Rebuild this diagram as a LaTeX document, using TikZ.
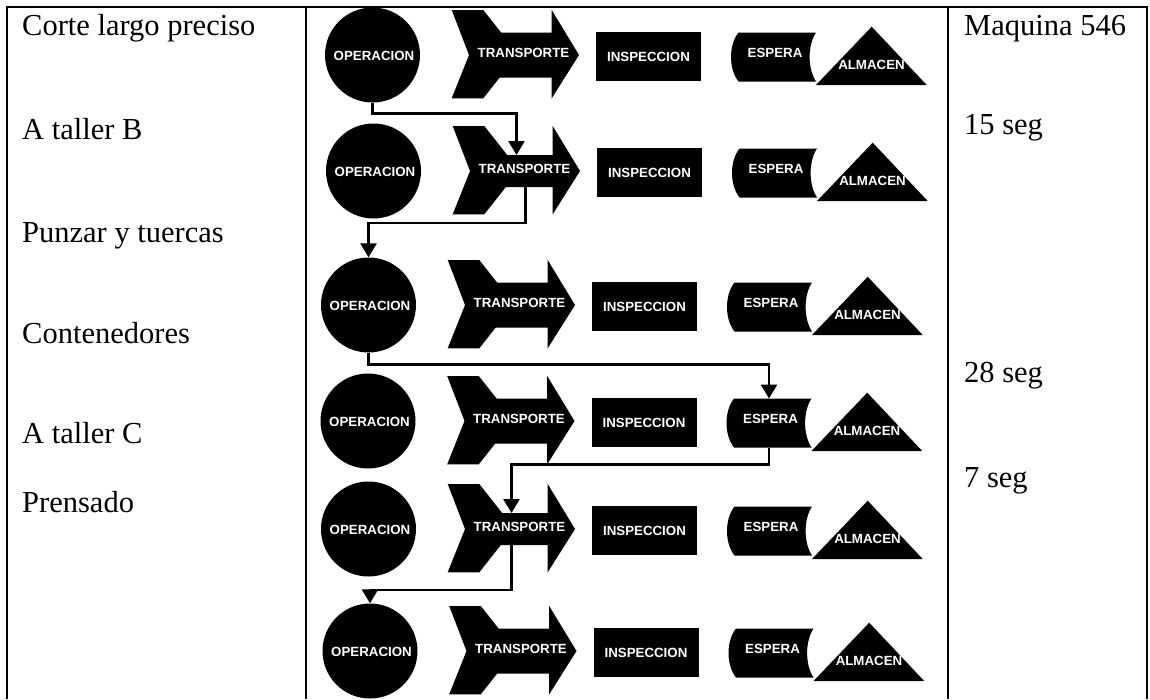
\documentclass[tikz,border=0pt]{standalone}
\usepackage{fontspec}
\setmainfont{Liberation Serif}
\newfontfamily\shapefont{Liberation Sans}
\usetikzlibrary{arrows.meta}

\tikzset{
  celltext/.style={anchor=base west, inner sep=0pt, font=\fontsize{30.5}{36}\selectfont},
  symtext/.style={text=white, inner sep=0pt, font=\shapefont\bfseries\fontsize{13.3}{15}\selectfont},
  opnode/.style={circle, fill=black, minimum size=95pt, inner sep=0pt, symtext},
  inspnode/.style={rectangle, fill=black, minimum width=105pt, minimum height=49pt, inner sep=0pt, symtext},
  conn/.style={line width=2.6pt, -{Triangle[length=14pt,width=16pt]}},
  rule/.style={line width=2pt},
  % one row of the five process symbols; the value is the half height of the arrow body
  pics/procrow/.style={code={
    \node[opnode] (-op) at (0,0) {};
    \node[symtext] (-opl) at (1.5,1) {OPERACION};
    \fill (79.2,-45) -- (110.8,-45) -- ({110.8+0.79*(45-#1)},-#1) -- (179.2,-#1) -- (179.2,-45)
      -- (206.5,0) -- (179.2,43.3) -- (179.2,#1) -- ({110.8+0.79*(43.3-#1)},#1) -- (110.8,43.3)
      -- (79.2,43.3) -- (96.5,0) -- cycle;
    \node[symtext] (-tr) at (151,-2) {TRANSPORTE};
    \coordinate (-trtop) at (143,-#1);
    \coordinate (-trbot) at (143,#1);
    \node[inspnode] (-in) at (276,1.5) {INSPECCION};
    \fill (366,-22.5) -- (443.5,-22.5) .. controls (435,-10) and (435,14) .. (443.5,26.5)
      -- (366,26.5) .. controls (356,14) and (356,-10) .. (366,-22.5) -- cycle;
    \node[symtext] (-es) at (402.5,-2) {ESPERA};
    \coordinate (-estop) at (401,-22.5);
    \coordinate (-esbot) at (401,26.5);
    \fill (499.2,-28.3) -- (554.2,30) -- (443.5,30) -- cycle;
    \node[symtext] (-al) at (499,10) {ALMACEN};
  }},
  pics/procrow/.default=22.5
}

\begin{document}
\begin{tikzpicture}[x=1pt, y=-1pt]
  \useasboundingbox (0,0) rectangle (1150,699);
  \fill[white] (0,0) rectangle (1150,699);

  % table frame
  \draw[rule] (7,699) -- (7,6.5) -- (1147,6.5) -- (1147,699);
  \draw[rule] (306,6.5) -- (306,699);
  \draw[rule] (947.5,6.5) -- (947.5,699);

  % activity column
  \node[celltext] (a1) at (22,35) {Corte largo preciso};
  \node[celltext] (a2) at (22,139) {A taller B};
  \node[celltext] (a3) at (22,242) {Punzar y tuercas};
  \node[celltext] (a4) at (22,343) {Contenedores};
  \node[celltext] (a5) at (22,443) {A taller C};
  \node[celltext] (a6) at (22,512) {Prensado};

  % notes column
  \node[celltext] (n1) at (964,35) {Maquina 546};
  \node[celltext] (n2) at (964,134) {15 seg};
  \node[celltext] (n3) at (964,382) {28 seg};
  \node[celltext] (n4) at (964,487) {7 seg};

  % symbol rows
  \pic (r1) at (372.5,55) {procrow};
  \pic (r2) at (373.5,171) {procrow=16};
  \pic (r3) at (368.5,305) {procrow};
  \pic (r4) at (368,421) {procrow};
  \pic (r5) at (368.5,529) {procrow=16};
  \pic (r6) at (370,651) {procrow};

  % flow of the part
  \draw[conn] (r1-op.south) -- ++(0,11) -| (r2-trtop);
  \draw[conn] ([xshift=9pt]r2-trbot) -- ++(0,36) -| (r3-op.north);
  \draw[conn] (r3-op.south) -- ++(0,11.5) -| (r4-estop);
  \draw[conn] (r4-esbot) -- ++(0,17) -| (r5-trtop);
  \draw[conn] (r5-trbot) -- ++(0,45) -| (r6-op.north);
\end{tikzpicture}
\end{document}
